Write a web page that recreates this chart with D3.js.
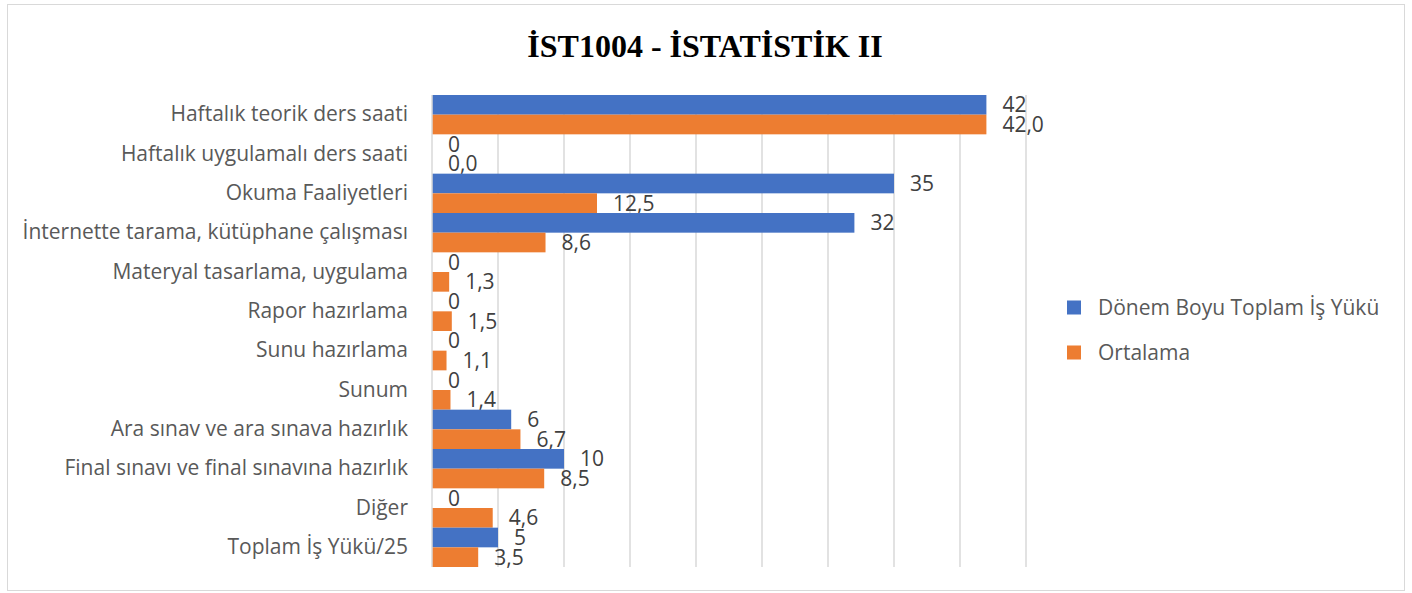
<!DOCTYPE html>
<html>
<head>
<meta charset="utf-8">
<script src="https://cdn.jsdelivr.net/npm/d3@7"></script>
<style>
  body { margin: 0; background: #fff; }
  svg text { font-family: "Open Sans", "Noto Sans", sans-serif; }
</style>
</head>
<body>
<div id="chart"></div>
<script>
// categories, top to bottom
var categories = [
  "Haftalık teorik ders saati",
  "Haftalık uygulamalı ders saati",
  "Okuma Faaliyetleri",
  "İnternette tarama, kütüphane çalışması",
  "Materyal tasarlama, uygulama",
  "Rapor hazırlama",
  "Sunu hazırlama",
  "Sunum",
  "Ara sınav ve ara sınava hazırlık",
  "Final sınavı ve final sınavına hazırlık",
  "Diğer",
  "Toplam İş Yükü/25"
];
var seriesNames = ["Dönem Boyu Toplam İş Yükü", "Ortalama"];
var toplam = [42, 0, 35, 32, 0, 0, 0, 0, 6, 10, 0, 5];
var ortalama = [42.0, 0.0, 12.5, 8.6, 1.3, 1.5, 1.1, 1.4, 6.7, 8.5, 4.6, 3.5];
var colors = ["#4472C4", "#ED7D31"];
var gridTicks = [5, 10, 15, 20, 25, 30, 35, 40, 45];

var W = 1412, H = 593;
var svg = d3.select("#chart").append("svg")
  .attr("width", W).attr("height", H);

// chart frame
svg.append("rect")
  .attr("x", 7.5).attr("y", 4.5)
  .attr("width", 1397).attr("height", 586)
  .attr("fill", "#fff").attr("stroke", "#d9d9d9");

svg.append("text")
  .attr("x", 705).attr("y", 57)
  .attr("text-anchor", "middle")
  .style("font-family", "'Liberation Serif', 'Times New Roman', serif")
  .style("font-weight", "bold")
  .style("font-size", "32px")
  .attr("fill", "#000")
  .text("İST1004 - İSTATİSTİK II");

var x = d3.scaleLinear().domain([0, 45]).range([432, 1026]);
var y = d3.scaleBand().domain(categories).range([95, 567]).paddingInner(0).paddingOuter(0);
var ySub = d3.scaleBand().domain([0, 1]).range([0, y.bandwidth()]);

// gridlines
svg.append("g").selectAll("line")
  .data(gridTicks).enter().append("line")
  .attr("x1", function(d) { return x(d); })
  .attr("x2", function(d) { return x(d); })
  .attr("y1", 95).attr("y2", 567)
  .attr("stroke", "#d9d9d9").attr("stroke-width", 1.5);

var rows = categories.map(function(c, i) {
  return { cat: c, vals: [toplam[i], ortalama[i]] };
});

var g = svg.append("g").selectAll("g")
  .data(rows).enter().append("g")
  .attr("transform", function(d) { return "translate(0," + y(d.cat) + ")"; });

g.selectAll("rect")
  .data(function(d) { return d.vals; })
  .enter().append("rect")
  .attr("x", x(0))
  .attr("y", function(d, i) { return ySub(i); })
  .attr("width", function(d) { return x(d) - x(0); })
  .attr("height", ySub.bandwidth())
  .attr("fill", function(d, i) { return colors[i]; });

// value labels
g.selectAll("text.val")
  .data(function(d) { return d.vals; })
  .enter().append("text")
  .attr("class", "val")
  .attr("x", function(d) { return x(d) + 16; })
  .attr("y", function(d, i) { return ySub(i) + ySub.bandwidth() / 2; })
  .attr("dy", "0.36em")
  .style("font-size", "21px")
  .attr("fill", "#404040")
  .text(function(d, i) {
    return i === 0 ? String(d) : d.toFixed(1).replace(".", ",");
  });

// y axis line
svg.append("line")
  .attr("x1", x(0)).attr("x2", x(0))
  .attr("y1", 95).attr("y2", 567)
  .attr("stroke", "#d9d9d9").attr("stroke-width", 1.5);

// category labels
var yAxis = d3.axisLeft(y).tickSize(0).tickPadding(24);
var ax = svg.append("g").attr("transform", "translate(" + x(0) + ",0)").call(yAxis);
ax.select(".domain").remove();
ax.selectAll("text")
  .style("font-family", "'Open Sans', 'Noto Sans', sans-serif")
  .style("font-size", "21px")
  .attr("fill", "#595959");

// legend
var leg = svg.append("g").selectAll("g")
  .data(seriesNames).enter().append("g")
  .attr("transform", function(d, i) { return "translate(1067," + (307.5 + i * 45) + ")"; });
leg.append("rect")
  .attr("x", 0).attr("y", -7)
  .attr("width", 14).attr("height", 14)
  .attr("fill", function(d, i) { return colors[i]; });
leg.append("text")
  .attr("x", 31).attr("y", 0).attr("dy", "0.36em")
  .style("font-size", "21px")
  .attr("fill", "#595959")
  .text(function(d) { return d; });
</script>
</body>
</html>
